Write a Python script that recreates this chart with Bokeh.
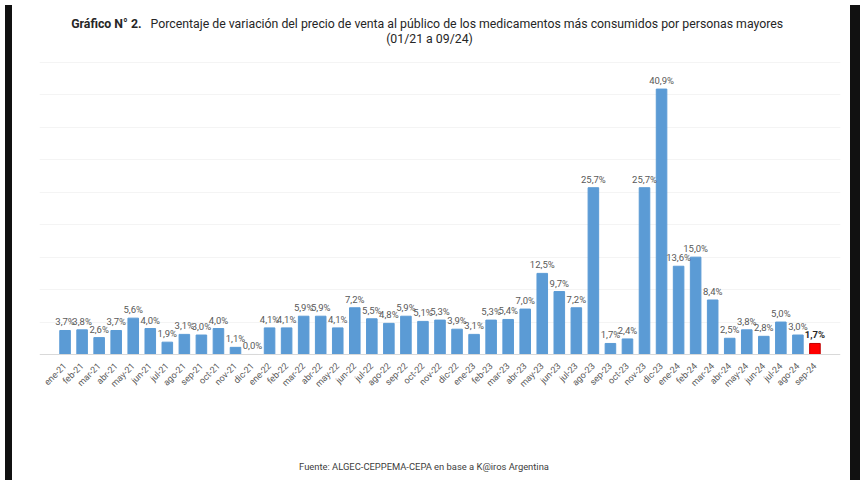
from bokeh.plotting import figure
from bokeh.models import ColumnDataSource, Label, FactorRange, Div, FixedTicker
from bokeh.layouts import row
from bokeh.core.properties import value
from bokeh.embed import file_html
from bokeh.resources import INLINE

months = ["ene-21", "feb-21", "mar-21", "abr-21", "may-21", "jun-21", "jul-21", "ago-21", "sep-21", "oct-21", "nov-21", "dic-21",
          "ene-22", "feb-22", "mar-22", "abr-22", "may-22", "jun-22", "jul-22", "ago-22", "sep-22", "oct-22", "nov-22", "dic-22",
          "ene-23", "feb-23", "mar-23", "abr-23", "may-23", "jun-23", "jul-23", "ago-23", "sep-23", "oct-23", "nov-23", "dic-23",
          "ene-24", "feb-24", "mar-24", "abr-24", "may-24", "jun-24", "jul-24", "ago-24", "sep-24"]
variation = [3.7, 3.8, 2.6, 3.7, 5.6, 4.0, 1.9, 3.1, 3.0, 4.0, 1.1, 0.0,
             4.1, 4.1, 5.9, 5.9, 4.1, 7.2, 5.5, 4.8, 5.9, 5.1, 5.3, 3.9,
             3.1, 5.3, 5.4, 7.0, 12.5, 9.7, 7.2, 25.7, 1.7, 2.4, 25.7, 40.9,
             13.6, 15.0, 8.4, 2.5, 3.8, 2.8, 5.0, 3.0, 1.7]
grid_values = [5, 10, 15, 20, 25, 30, 35, 40, 45]

title_bold = "Gráfico N° 2."
title_rest = "Porcentaje de variación del precio de venta al público de los medicamentos más consumidos por personas mayores"
subtitle = "(01/21 a 09/24)"
source_note = "Fuente: ALGEC-CEPPEMA-CEPA en base a K@iros Argentina"

BLUE = "#5B9BD5"
RED = "#FF0000"

colors = [BLUE] * (len(months) - 1) + [RED]
labels = [("%.1f%%" % v).replace(".", ",") for v in variation]
last = len(months) - 1

src_main = ColumnDataSource(dict(m=months[:last], v=variation[:last], c=colors[:last], t=labels[:last]))
src_last = ColumnDataSource(dict(m=months[last:], v=variation[last:], c=colors[last:], t=labels[last:]))

Y_TOP = 52.7
Y_BOTTOM = -18.8

p = figure(width=844, height=478,
           x_range=FactorRange(*months, range_padding=1, range_padding_units="absolute"),
           y_range=(Y_BOTTOM, Y_TOP), output_backend="svg", toolbar_location=None, title=None,
           y_axis_location=None, min_border_left=39, min_border_right=4,
           min_border_top=12, min_border_bottom=2)
p.outline_line_color = None
p.background_fill_color = "white"
p.border_fill_color = "white"

p.vbar(x="m", top="v", width=0.62, color="c", source=src_main)
p.vbar(x="m", top="v", width=0.62, fill_color="c", line_color="#C00000", source=src_last)

p.text(x="m", y="v", text="t", source=src_main, text_align="center", text_baseline="bottom",
       y_offset=-3, text_font=value("Roboto"), text_font_size="9.5px", text_color="#595959")
p.text(x="m", y="v", text="t", source=src_last, text_align="center", text_baseline="bottom",
       y_offset=-3, text_font=value("Roboto"), text_font_size="9.5px", text_color="#262626",
       text_font_style="bold")

p.xgrid.grid_line_color = None
p.ygrid.grid_line_color = "#F4F4F4"
p.ygrid.ticker = FixedTicker(ticks=grid_values)

ax = p.xaxis[0]
ax.fixed_location = 0
ax.axis_line_color = "#D9D9D9"
ax.major_tick_line_color = None
ax.minor_tick_line_color = None
ax.major_label_orientation = 0.785
ax.major_label_text_font = "Roboto"
ax.major_label_text_font_size = "9px"
ax.major_label_text_color = "#595959"
ax.major_label_standoff = 4

p.add_layout(Label(x=102, y=51.0, x_units="screen", text=title_bold,
                   text_align="right", text_baseline="middle", text_font="Roboto",
                   text_font_size="12.3px", text_font_style="bold", text_color="#262626"))
p.add_layout(Label(x=111, y=51.0, x_units="screen", text=title_rest,
                   text_align="left", text_baseline="middle", text_font="Roboto",
                   text_font_size="12.3px", text_color="#262626"))
p.add_layout(Label(x=390, y=48.6, x_units="screen", text=subtitle,
                   text_align="center", text_baseline="middle", text_font="Roboto",
                   text_font_size="12.3px", text_color="#262626"))
p.add_layout(Label(x=384.5, y=-17.26, x_units="screen", text=source_note,
                   text_align="center", text_baseline="middle", text_font="Roboto",
                   text_font_size="9.4px", text_color="#404040"))

left_strip = Div(text="", width=1, height=1,
                 styles={"position": "fixed", "left": "0px", "top": "0px", "width": "7px",
                         "height": "480px", "background-color": "#111111"})
right_strip = Div(text="", width=1, height=1,
                  styles={"position": "fixed", "left": "845px", "top": "0px", "width": "15px",
                          "height": "480px", "background-color": "#111111"})

layout = row(p, left_strip, right_strip)
open("out.html", "w").write(file_html(layout, INLINE))
